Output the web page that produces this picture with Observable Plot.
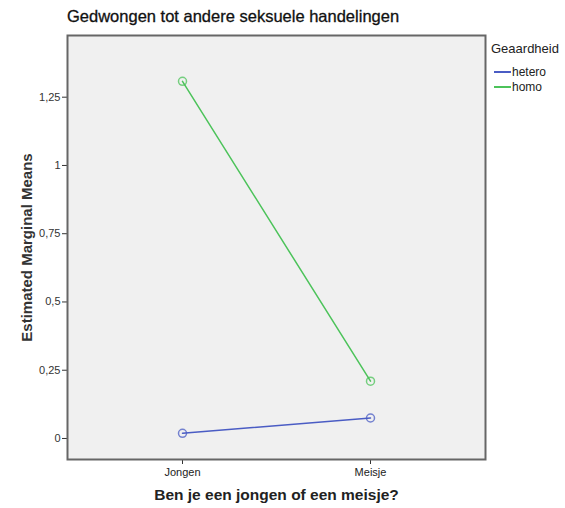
<!DOCTYPE html>
<html>
<head>
<meta charset="utf-8">
<script src="https://cdn.jsdelivr.net/npm/d3@7"></script>
<script src="https://cdn.jsdelivr.net/npm/@observablehq/plot@0.6"></script>
<style>
  body { margin: 0; background: #fff; font-family: "Liberation Sans", Arial, sans-serif; }
  #wrap { position: relative; width: 565px; height: 508px; }
  #title { position: absolute; left: 67px; top: 7px; font-size: 16.5px; color: #111; white-space: nowrap; -webkit-text-stroke: 0.3px #111; }
  #legend { position: absolute; left: 491px; top: 41px; font-size: 12px; color: #222; }
  #legend .head { font-size: 13px; margin-bottom: 8px; }
  #legend .item { display: flex; align-items: center; height: 15px; font-size: 12px; }
  #legend .sw { display: inline-block; width: 17px; height: 2px; margin-left: 3px; margin-right: 1px; }
  svg g[aria-label="y-axis label"], svg g[aria-label="x-axis label"] { font-weight: bold; }
  svg g[aria-label="y-axis label"] text { font-size: 15px; }
  svg g[aria-label="x-axis label"] text { font-size: 15.5px; }
</style>
</head>
<body>
<div id="wrap">
  <div id="title">Gedwongen tot andere seksuele handelingen</div>
  <div id="legend"></div>
</div>
<script>
const categories = ["Jongen", "Meisje"];
const groups = ["hetero", "homo"];
const heteroValues = [0.019, 0.075];
const homoValues = [1.308, 0.210];
const yTicks = [0, 0.25, 0.5, 0.75, 1, 1.25];
const colors = ["#4a5cc4", "#4cc35a"];

const data = [];
categories.forEach((c, i) => {
  data.push({cat: c, group: "hetero", value: heteroValues[i]});
  data.push({cat: c, group: "homo", value: homoValues[i]});
});

const fmt = v => String(v).replace(".", ",");

const chart = Plot.plot({
  width: 565,
  height: 508,
  marginLeft: 67,
  marginTop: 35,
  marginRight: 80,
  marginBottom: 49,
  style: {fontFamily: "Liberation Sans, Arial, sans-serif", fontSize: "11px", color: "#333", background: "transparent"},
  x: {type: "point", domain: categories, padding: 0.61, label: null},
  y: {domain: [-0.077, 1.476], label: null},
  color: {domain: groups, range: colors},
  marks: [
    Plot.frame({fill: "#f0f0f0", stroke: "none"}),
    Plot.line(data, {x: "cat", y: "value", z: "group", stroke: "group", strokeWidth: 1.5}),
    Plot.dot(data, {x: "cat", y: "value", stroke: "group", r: 4, strokeWidth: 1.5, strokeOpacity: 0.75}),
    Plot.axisY({ticks: yTicks, tickFormat: fmt, tickSize: 5, tickPadding: 2, label: "Estimated Marginal Means", labelAnchor: "center", labelArrow: "none", labelOffset: 46, fill: "#333"}),
    Plot.axisX({tickSize: 5, tickPadding: 4, label: "Ben je een jongen of een meisje?", labelAnchor: "center", labelArrow: "none", labelOffset: 40, fill: "#222"}),
    Plot.frame({stroke: "#666", strokeWidth: 2})
  ]
});
document.getElementById("wrap").prepend(chart);

const legend = document.getElementById("legend");
const head = document.createElement("div");
head.className = "head";
head.textContent = "Geaardheid";
legend.appendChild(head);
groups.forEach((g, i) => {
  const item = document.createElement("div");
  item.className = "item";
  const sw = document.createElement("span");
  sw.className = "sw";
  sw.style.background = colors[i];
  item.appendChild(sw);
  const t = document.createElement("span");
  t.textContent = g;
  item.appendChild(t);
  legend.appendChild(item);
});
</script>
</body>
</html>
